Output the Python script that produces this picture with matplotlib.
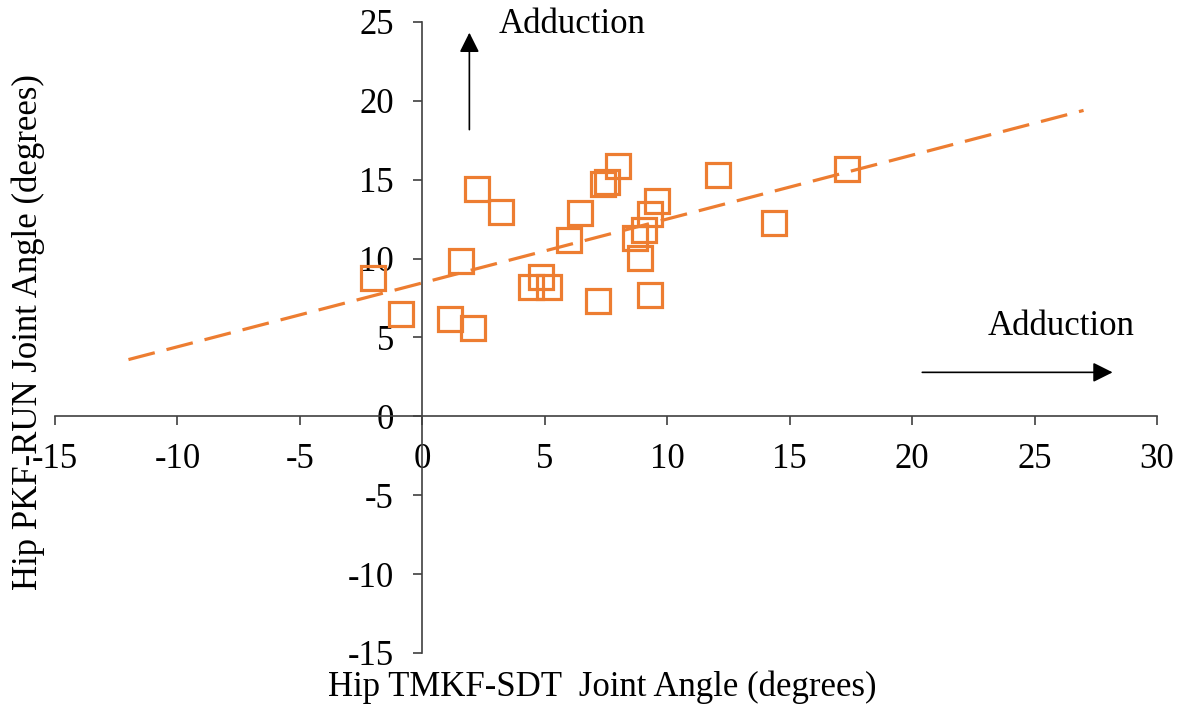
import matplotlib.pyplot as plt
import numpy as np

plt.rcParams['font.family'] = ['Liberation Serif', 'DejaVu Serif']
plt.rcParams['axes.unicode_minus'] = False

# hip adduction angles (degrees)
tmkf_sdt = [-2.0, -0.86, 1.14, 2.07, 1.57, 2.23, 3.23, 4.45, 4.86, 5.16, 6.0, 6.43, 7.18,
            7.38, 7.52, 7.99, 8.7, 9.04, 8.9, 9.3, 9.59, 9.3, 12.09, 14.37, 17.32]
pkf_run = [8.8, 6.5, 6.2, 5.6, 9.85, 14.4, 12.98, 8.2, 8.83, 8.2, 11.18, 12.87, 7.32,
           14.71, 14.85, 15.87, 11.29, 11.81, 10.06, 12.81, 13.65, 7.67, 15.28, 12.28, 15.66]

# trend line as drawn in the figure
trend_x = [-12, 27]
trend_slope = 0.405
trend_icept = 8.46

x_ticks = [-15, -10, -5, 0, 5, 10, 15, 20, 25, 30]
y_ticks = [-15, -10, -5, 0, 5, 10, 15, 20, 25]

orange = '#ED7D31'
fs = 25

fig = plt.figure(figsize=(11.78, 7.09), dpi=100)
ax = fig.add_axes([0.0467, 0.079, 0.9355, 0.890])

tx = np.array(trend_x)
ax.plot(tx, trend_slope * tx + trend_icept, color=orange, lw=2.3, dashes=(8.5, 3.8))
ax.plot(tmkf_sdt, pkf_run, 's', mfc='none', mec=orange, ms=17, mew=2.3, ls='none')

ax.set_xlim(-15, 30)
ax.set_ylim(-15, 25)
ax.set_xticks(x_ticks)
ax.set_yticks(y_ticks)

ax.spines['left'].set_position(('data', 0))
ax.spines['bottom'].set_position(('data', 0))
ax.spines['top'].set_visible(False)
ax.spines['right'].set_visible(False)
for s in ['left', 'bottom']:
    ax.spines[s].set_color('#404040')
    ax.spines[s].set_linewidth(1.2)
ax.tick_params(direction='out', length=6.5, width=1.2, color='#404040', labelsize=fs)
ax.tick_params(axis='x', pad=13)
ax.tick_params(axis='y', pad=14)

# arrows and labels
ax.annotate('', xy=(1.92, 24.5), xytext=(1.92, 18.0),
            arrowprops=dict(arrowstyle='-|>', color='black', lw=1.2, mutation_scale=30),
            annotation_clip=False)
ax.text(3.1, 24.85, 'Adduction', fontsize=fs, va='center', ha='left', clip_on=False)
ax.annotate('', xy=(28.3, 2.79), xytext=(20.3, 2.79),
            arrowprops=dict(arrowstyle='-|>', color='black', lw=1.2, mutation_scale=30),
            annotation_clip=False)
ax.text(23.1, 5.7, 'Adduction', fontsize=fs, va='center', ha='left')

fig.text(0.511, 0.030, 'Hip TMKF-SDT  Joint Angle (degrees)', fontsize=fs, ha='center', va='center')
fig.text(0.024, 0.532, 'Hip PKF-RUN Joint Angle (degrees)', fontsize=fs, ha='center',
         va='center', rotation=90)

fig.savefig('out.png', dpi=100)
